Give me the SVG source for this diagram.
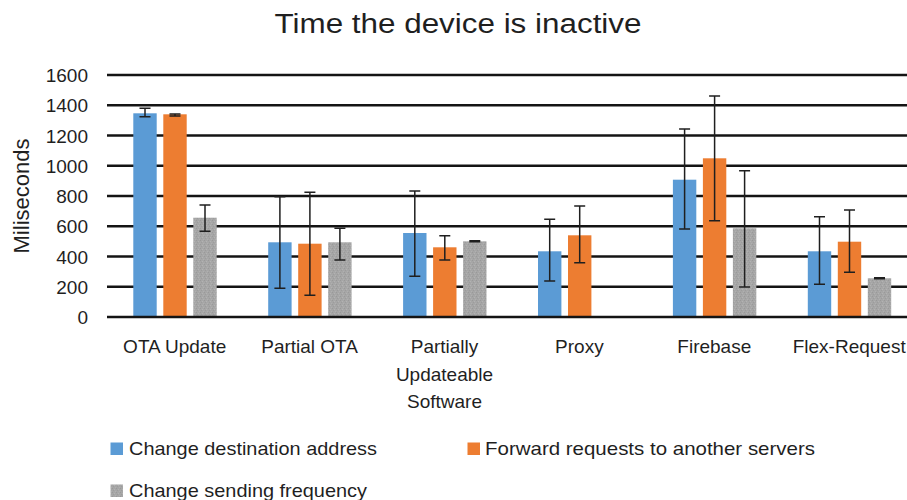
<svg xmlns="http://www.w3.org/2000/svg" width="907" height="500" viewBox="0 0 907 500">
<defs>
<pattern id="grayTex" width="4" height="4" patternUnits="userSpaceOnUse">
<rect width="4" height="4" fill="#a6a6a6"/>
<rect x="0" y="0" width="1" height="1" fill="#999999"/>
<rect x="2" y="1" width="1" height="1" fill="#b3b3b3"/>
<rect x="1" y="2" width="1" height="1" fill="#9c9c9c"/>
<rect x="3" y="3" width="1" height="1" fill="#b0b0b0"/>
</pattern>
</defs>
<style>
text{font-family:"Liberation Sans",Arial,sans-serif;fill:#1f1f1f}
.grid{stroke:#141414;stroke-width:2.5}
.b{fill:#5b9bd5}
.o{fill:#ed7d31}
.g{fill:url(#grayTex)}
.err{stroke:#1f1f1f;stroke-width:1.5;fill:none}
.ylab{font-size:19px;text-anchor:end}
.xlab{font-size:19px;text-anchor:middle}
.leg{font-size:19px}
</style>
<rect width="907" height="500" fill="#ffffff"/>
<text id="title" x="458" y="33" font-size="27" text-anchor="middle" textLength="367" lengthAdjust="spacingAndGlyphs">Time the device is inactive</text>
<g id="gridlines">
<line class="grid" x1="107" y1="75" x2="907" y2="75"/>
<line class="grid" x1="107" y1="105.25" x2="907" y2="105.25"/>
<line class="grid" x1="107" y1="135.5" x2="907" y2="135.5"/>
<line class="grid" x1="107" y1="165.75" x2="907" y2="165.75"/>
<line class="grid" x1="107" y1="196" x2="907" y2="196"/>
<line class="grid" x1="107" y1="226.25" x2="907" y2="226.25"/>
<line class="grid" x1="107" y1="256.5" x2="907" y2="256.5"/>
<line class="grid" x1="107" y1="286.75" x2="907" y2="286.75"/>
</g>
<g id="yaxis">
<text class="ylab" x="88" y="82">1600</text>
<text class="ylab" x="88" y="112.25">1400</text>
<text class="ylab" x="88" y="142.5">1200</text>
<text class="ylab" x="88" y="172.75">1000</text>
<text class="ylab" x="88" y="203">800</text>
<text class="ylab" x="88" y="233.25">600</text>
<text class="ylab" x="88" y="263.5">400</text>
<text class="ylab" x="88" y="293.75">200</text>
<text class="ylab" x="88" y="324">0</text>
<text id="ytitle" x="28.5" y="196" font-size="22" text-anchor="middle" transform="rotate(-90 28.5 196)">Miliseconds</text>
</g>
<g id="cat-ota">
<rect class="b" x="133.3" y="113.3" width="23.4" height="203.7"/>
<rect class="o" x="163.3" y="114.3" width="23.4" height="202.7"/>
<rect class="g" x="193.3" y="217.7" width="23.4" height="99.3"/>
<path class="err" d="M145 108.3V116.7M139.5 108.3h11M139.5 116.7h11M175 114V116M169.5 114h11M169.5 116h11M205 205V231.3M199.5 205h11M199.5 231.3h11"/>
<text class="xlab" x="174.7" y="353">OTA Update</text>
</g>
<g id="cat-partial-ota">
<rect class="b" x="268.2" y="242.3" width="23.4" height="74.7"/>
<rect class="o" x="298.2" y="243.7" width="23.4" height="73.3"/>
<rect class="g" x="328.2" y="242.3" width="23.4" height="74.7"/>
<path class="err" d="M279.9 196.7V288.3M274.4 196.7h11M274.4 288.3h11M309.9 192.3V295.3M304.4 192.3h11M304.4 295.3h11M339.9 228.3V260M334.4 228.3h11M334.4 260h11"/>
<text class="xlab" x="309.6" y="353">Partial OTA</text>
</g>
<g id="cat-partially-updateable">
<rect class="b" x="403.1" y="233" width="23.4" height="84"/>
<rect class="o" x="433.1" y="247.3" width="23.4" height="69.7"/>
<rect class="g" x="463.1" y="241.3" width="23.4" height="75.7"/>
<path class="err" d="M414.8 191V276.3M409.3 191h11M409.3 276.3h11M444.8 235.7V260M439.3 235.7h11M439.3 260h11M474.8 240.7V241.7M469.3 240.7h11M469.3 241.7h11"/>
<text class="xlab" x="444.5" y="353">Partially</text>
<text class="xlab" x="444.5" y="380.5">Updateable</text>
<text class="xlab" x="444.5" y="408">Software</text>
</g>
<g id="cat-proxy">
<rect class="b" x="538" y="251.3" width="23.4" height="65.7"/>
<rect class="o" x="568" y="235.3" width="23.4" height="81.7"/>
<path class="err" d="M549.7 219.3V281M544.2 219.3h11M544.2 281h11M579.7 206V262.7M574.2 206h11M574.2 262.7h11"/>
<text class="xlab" x="579.4" y="353">Proxy</text>
</g>
<g id="cat-firebase">
<rect class="b" x="672.9" y="179.7" width="23.4" height="137.3"/>
<rect class="o" x="702.9" y="158.3" width="23.4" height="158.7"/>
<rect class="g" x="732.9" y="228.3" width="23.4" height="88.7"/>
<path class="err" d="M684.6 129V229M679.1 129h11M679.1 229h11M714.6 96V220.7M709.1 96h11M709.1 220.7h11M744.6 170.7V287M739.1 170.7h11M739.1 287h11"/>
<text class="xlab" x="714.3" y="353">Firebase</text>
</g>
<g id="cat-flex-request">
<rect class="b" x="807.8" y="251.3" width="23.4" height="65.7"/>
<rect class="o" x="837.8" y="241.7" width="23.4" height="75.3"/>
<rect class="g" x="867.8" y="278.3" width="23.4" height="38.7"/>
<path class="err" d="M819.5 216.7V284.3M814 216.7h11M814 284.3h11M849.5 210V272.3M844 210h11M844 272.3h11M879.5 277.7V278.7M874 277.7h11M874 278.7h11"/>
<text class="xlab" x="849.2" y="353">Flex-Request</text>
</g>
<line id="xaxis" class="grid" x1="107" y1="317" x2="907" y2="317"/>
<g id="legend">
<g id="leg-blue"><rect class="b" x="110.5" y="442.5" width="12.5" height="12.5"/><text class="leg" x="129" y="455" textLength="248" lengthAdjust="spacingAndGlyphs">Change destination address</text></g>
<g id="leg-orange"><rect class="o" x="467.5" y="442.5" width="12.5" height="12.5"/><text class="leg" x="485" y="455" textLength="330" lengthAdjust="spacingAndGlyphs">Forward requests to another servers</text></g>
<g id="leg-gray"><rect class="g" x="110.5" y="484.5" width="12.5" height="12.5"/><text class="leg" x="129" y="497" textLength="238" lengthAdjust="spacingAndGlyphs">Change sending frequency</text></g>
</g>
</svg>
